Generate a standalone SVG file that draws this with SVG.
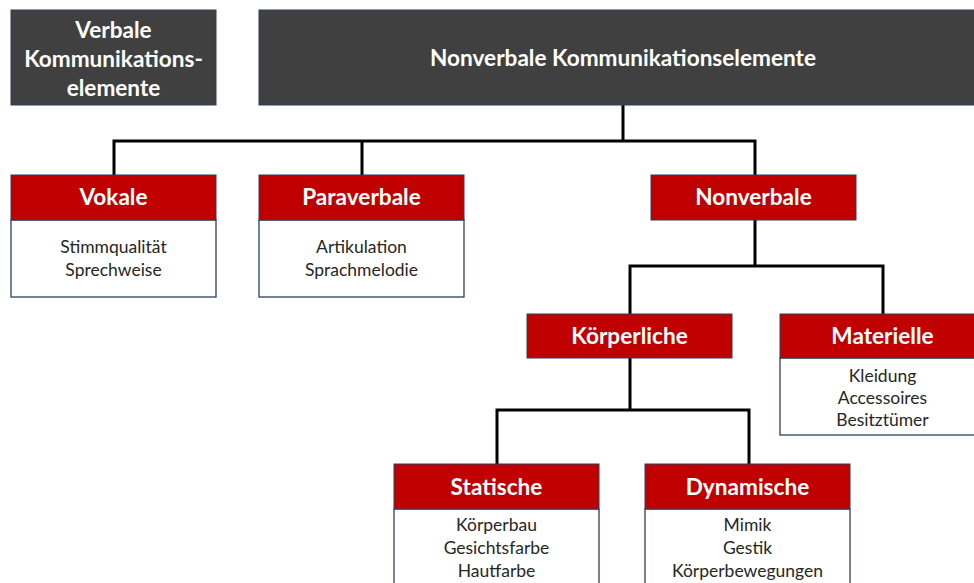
<svg xmlns="http://www.w3.org/2000/svg" width="974" height="583" viewBox="0 0 974 583">
  <style>
    .dark { fill: #404040; stroke: #2f3f5f; stroke-width: 1; }
    .head { fill: #c00000; stroke: #2f3f5f; stroke-width: 1; }
    .body { fill: #ffffff; stroke: #2f3f5f; stroke-width: 1.3; }
    .title { font-family: Lato, "Open Sans", sans-serif; font-weight: bold; font-size: 22.6px; fill: #ffffff; text-anchor: middle; }
    .item { font-family: Lato, "Open Sans", sans-serif; font-size: 17.5px; fill: #262626; text-anchor: middle; }
    .conn { fill: none; stroke: #000000; stroke-width: 3; }
  </style>
  <rect width="974" height="583" fill="#ffffff"/>

  <!-- connectors -->
  <g id="connectors">
    <path class="conn" d="M623,105 V141 M114,175 V141 H755 V175 M362,141 V175"/>
    <path class="conn" d="M755,220 V266 M630,314 V266 H883 V314"/>
    <path class="conn" d="M630,358 V410 M497,464 V410 H749 V464"/>
  </g>

  <g id="verbale">
    <rect class="dark" x="11" y="10" width="205" height="95"/>
    <text class="title" x="113.5" y="38">Verbale</text>
    <text class="title" x="113.5" y="67">Kommunikations-</text>
    <text class="title" x="113.5" y="96">elemente</text>
  </g>

  <g id="nonverbale-elemente">
    <rect class="dark" x="259" y="10" width="730" height="95"/>
    <text class="title" x="623" y="66">Nonverbale Kommunikationselemente</text>
  </g>

  <g id="vokale">
    <rect class="body" x="11" y="220" width="205" height="77"/>
    <rect class="head" x="11" y="175" width="205" height="45"/>
    <text class="title" x="113.5" y="205">Vokale</text>
    <text class="item" x="113.5" y="253">Stimmqualität</text>
    <text class="item" x="113.5" y="276">Sprechweise</text>
  </g>

  <g id="paraverbale">
    <rect class="body" x="259" y="220" width="205" height="77"/>
    <rect class="head" x="259" y="175" width="205" height="45"/>
    <text class="title" x="361.5" y="205">Paraverbale</text>
    <text class="item" x="361.5" y="253">Artikulation</text>
    <text class="item" x="361.5" y="276">Sprachmelodie</text>
  </g>

  <g id="nonverbale">
    <rect class="head" x="651" y="175" width="205" height="45"/>
    <text class="title" x="753.5" y="205">Nonverbale</text>
  </g>

  <g id="koerperliche">
    <rect class="head" x="527" y="314" width="205" height="44"/>
    <text class="title" x="629.5" y="344">Körperliche</text>
  </g>

  <g id="materielle">
    <rect class="body" x="780" y="358" width="205" height="77"/>
    <rect class="head" x="780" y="314" width="205" height="44"/>
    <text class="title" x="882.5" y="344">Materielle</text>
    <text class="item" x="882.5" y="382">Kleidung</text>
    <text class="item" x="882.5" y="404">Accessoires</text>
    <text class="item" x="882.5" y="426">Besitztümer</text>
  </g>

  <g id="statische">
    <rect class="body" x="394" y="509" width="205" height="90"/>
    <rect class="head" x="394" y="464" width="205" height="45"/>
    <text class="title" x="496.5" y="495">Statische</text>
    <text class="item" x="496.5" y="531">Körperbau</text>
    <text class="item" x="496.5" y="554">Gesichtsfarbe</text>
    <text class="item" x="496.5" y="577">Hautfarbe</text>
  </g>

  <g id="dynamische">
    <rect class="body" x="645" y="509" width="205" height="90"/>
    <rect class="head" x="645" y="464" width="205" height="45"/>
    <text class="title" x="747.5" y="495">Dynamische</text>
    <text class="item" x="747.5" y="531">Mimik</text>
    <text class="item" x="747.5" y="554">Gestik</text>
    <text class="item" x="747.5" y="577">Körperbewegungen</text>
  </g>
</svg>
